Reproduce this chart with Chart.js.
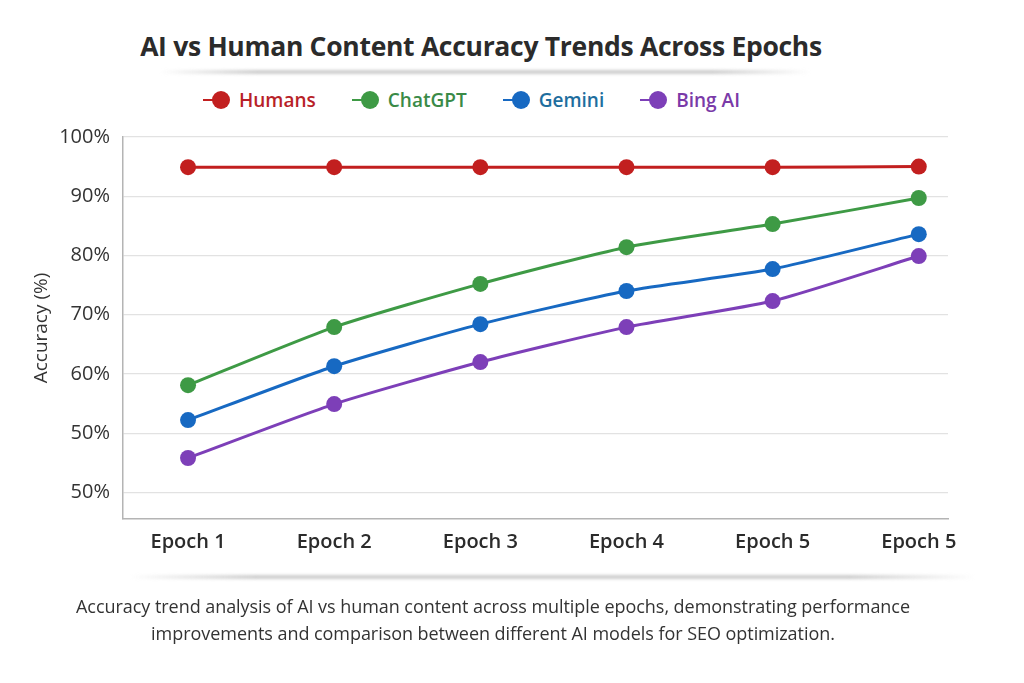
<!DOCTYPE html>
<html>
<head>
<meta charset="utf-8">
<script src="https://cdn.jsdelivr.net/npm/chart.js@4.4.1/dist/chart.umd.min.js"></script>
<style>
  html, body { margin: 0; padding: 0; background: #fff; }
  body { width: 1024px; height: 683px; position: relative; overflow: hidden; font-family: "Open Sans", sans-serif; }
  .title {
    position: absolute; left: 0; top: 28px; width: 962px; text-align: center;
    font-size: 26.5px; font-weight: 700; color: #2b2b2b; letter-spacing: -0.3px;
  }
  .shade {
    position: absolute; height: 4px; border-radius: 2px; filter: blur(1.5px);
    background: linear-gradient(to right, rgba(200,200,200,0), rgba(200,200,200,0.9) 15%, rgba(200,200,200,0.9) 85%, rgba(200,200,200,0));
  }
  .legend {
    position: absolute; left: 203px; top: 87px;
    display: flex; gap: 36px;
  }
  .legend-item { display: flex; align-items: center; font-size: 19px; font-weight: 600; }
  .legend-item .mark { position: relative; width: 27px; height: 18px; margin-right: 9px; }
  .legend-item .mark .ln { position: absolute; left: 0; top: 8px; width: 16px; height: 2px; }
  .legend-item .mark .dot { position: absolute; right: 0; top: 0; width: 18px; height: 18px; border-radius: 50%; }
  .chart-box { position: absolute; left: 0; top: 0; width: 1024px; height: 683px; }
  .caption {
    position: absolute; left: 0; top: 593px; width: 986px; text-align: center;
    font-size: 18px; line-height: 27px; color: #333; letter-spacing: -0.05px;
  }
</style>
</head>
<body>
<div class="title">AI vs Human Content Accuracy Trends Across Epochs</div>
<div class="shade" style="left:160px; top:70px; width:650px;"></div>
<div class="legend" id="legend"></div>
<div class="chart-box"><canvas id="accChart"></canvas></div>
<div class="shade" style="left:130px; top:575px; width:845px;"></div>
<div class="caption">Accuracy trend analysis of AI vs human content across multiple epochs, demonstrating performance<br>improvements and comparison between different AI models for SEO optimization.</div>

<script>
// Data
const epochs = ['Epoch 1', 'Epoch 2', 'Epoch 3', 'Epoch 4', 'Epoch 5', 'Epoch 5'];
const humans = [94.9, 94.9, 94.9, 94.9, 94.9, 95.0];
const chatgpt = [58.1, 67.9, 75.2, 81.4, 85.3, 89.7];
const gemini = [52.2, 61.3, 68.4, 74.0, 77.7, 83.6];
const bingAi = [45.8, 54.9, 62.0, 67.9, 72.3, 79.9];

const yTickValues = [40, 50, 60, 70, 80, 90, 100];
const yTickLabels = ['50%', '50%', '60%', '70%', '80%', '90%', '100%'];

const seriesNames = ['Humans', 'ChatGPT', 'Gemini', 'Bing AI'];
const seriesColors = ['#c21f1f', '#3e9a45', '#1769c2', '#7d3fb8'];
const legendTextColors = ['#b81f28', '#3a8a47', '#1e6e9e', '#7a3aa8'];
const seriesValues = [humans, chatgpt, gemini, bingAi];

// HTML legend (short line + dot marker, coloured text)
const legend = document.getElementById('legend');
seriesNames.forEach((name, i) => {
  const item = document.createElement('div');
  item.className = 'legend-item';
  item.style.color = legendTextColors[i];
  item.innerHTML = '<span class="mark"><span class="ln" style="background:' + seriesColors[i] +
    '"></span><span class="dot" style="background:' + seriesColors[i] + '"></span></span>' + name;
  legend.appendChild(item);
});

const datasets = seriesNames.map((name, i) => ({
  label: name,
  data: seriesValues[i].map((v, j) => ({ x: j + 1, y: v })),
  borderColor: seriesColors[i],
  backgroundColor: seriesColors[i],
  borderWidth: 3,
  pointRadius: 8,
  pointHoverRadius: 8,
  pointBorderWidth: 0,
  tension: 0.2
}));

new Chart(document.getElementById('accChart'), {
  type: 'line',
  data: { datasets },
  options: {
    responsive: true,
    maintainAspectRatio: false,
    animation: false,
    layout: { padding: { top: 137, right: 76, bottom: 114, left: 0 } },
    plugins: {
      legend: { display: false },
      tooltip: { enabled: false }
    },
    scales: {
      x: {
        type: 'linear',
        min: 0.555,
        max: 6.2,
        afterBuildTicks: scale => { scale.ticks = epochs.map((e, i) => ({ value: i + 1 })); },
        afterFit: scale => { scale.height = 50; },
        grid: { display: false, drawTicks: false },
        border: { display: true, color: '#b4b4b4', width: 1.5 },
        ticks: {
          padding: 11,
          color: '#2b2b2b',
          font: { family: 'Open Sans', size: 20, weight: '600' },
          callback: (value) => epochs[Math.round(value) - 1] || ''
        }
      },
      y: {
        min: 35.5,
        max: 100,
        afterBuildTicks: scale => { scale.ticks = yTickValues.map(v => ({ value: v })); },
        afterFit: scale => { scale.width = 123; },
        grid: { color: '#e2e2e2', lineWidth: 1.2, drawTicks: false },
        border: { display: true, color: '#b4b4b4', width: 1.5 },
        ticks: {
          padding: 13,
          color: '#333',
          font: { family: 'Open Sans', size: 20 },
          callback: (value) => yTickLabels[yTickValues.indexOf(value)]
        },
        title: {
          display: true,
          text: 'Accuracy (%)',
          color: '#333',
          font: { family: 'Open Sans', size: 19 },
          padding: { top: 30 }
        }
      }
    }
  }
});
</script>
</body>
</html>
